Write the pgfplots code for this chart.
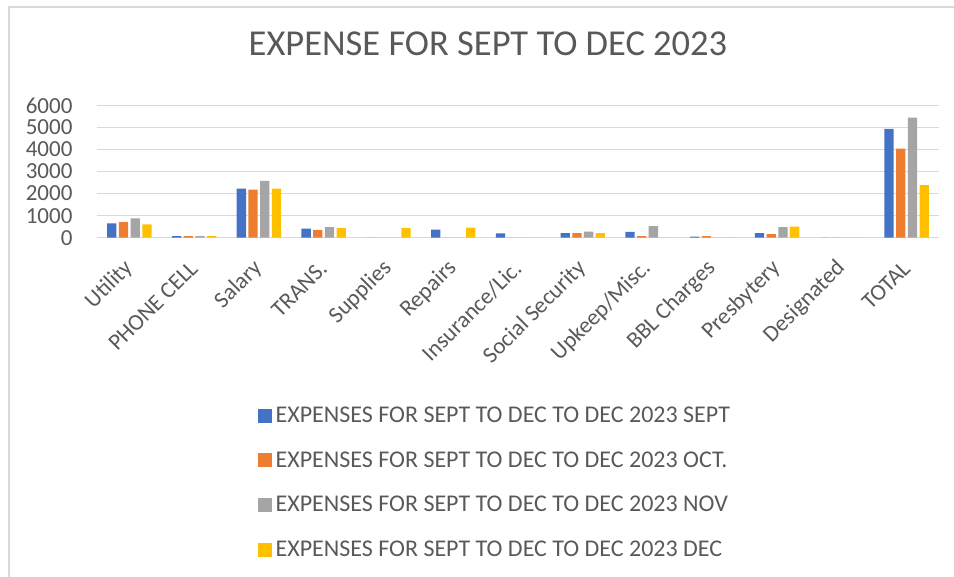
\documentclass[border=0pt]{standalone}
\usepackage{pgfplots}
\pgfplotsset{compat=1.18}
\usepackage{fontspec}
\setmainfont{Carlito}
\definecolor{SeptBlue}{HTML}{4472C4}
\definecolor{OctOrange}{HTML}{ED7D31}
\definecolor{NovGray}{HTML}{A5A5A5}
\definecolor{DecGold}{HTML}{FFC000}
\definecolor{TextGray}{HTML}{595959}
\definecolor{GridGray}{HTML}{D9D9D9}

\begin{document}
\begin{tikzpicture}
  \useasboundingbox (0,0) rectangle (954pt,577pt);
  % chart frame (only top and left edges show in the reference)
  \draw[GridGray, line width=1.5pt] (9pt,0) -- (9pt,570pt) -- (954pt,570pt);
  % title
  \node[anchor=base, text=TextGray, font=\fontsize{36.5}{42}\selectfont]
    at (488pt,521pt) {EXPENSE FOR SEPT TO DEC 2023};

  \begin{axis}[
      at={(97pt,339.3pt)}, anchor=south west,
      scale only axis, width=842pt, height=132.3pt,
      ybar=2.4pt, bar width=9.3pt,
      xmin=-0.5, xmax=12.5, ymin=0, ymax=6000,
      xtick={0,...,12},
      xticklabels={Utility, PHONE CELL, Salary, TRANS., Supplies, Repairs,
        Insurance/Lic., Social Security, Upkeep/Misc., BBL Charges,
        Presbytery, Designated, TOTAL},
      ytick={0,1000,...,6000},
      scaled y ticks=false,
      /pgf/number format/assume math mode=true,
      yticklabel={\pgfmathprintnumber[fixed,1000 sep={}]{\tick}},
      major tick length=0pt,
      axis line style={draw=none},
      ymajorgrids, grid style={GridGray, line width=1.3pt},
      tick label style={text=TextGray, font=\fontsize{23}{27}\selectfont},
      yticklabel style={xshift=-21pt},
      xticklabel style={rotate=45, anchor=east, xshift=-16pt, yshift=-19pt},
      legend style={at={(0.187,-1.25)}, anchor=north west, draw=none, fill=none,
        font=\fontsize{24}{28}\selectfont, text=TextGray,
        row sep=23.5pt, cells={anchor=west}},
      legend image code/.code={\fill[#1] (0pt,-7pt) rectangle (14pt,7pt);},
    ]
    % SEPT
    \addplot[fill=SeptBlue, draw=none] coordinates {
      (0,650) (1,75) (2,2230) (3,410) (4,0) (5,365) (6,200) (7,210)
      (8,260) (9,45) (10,210) (11,0) (12,4940)};
    % OCT.
    \addplot[fill=OctOrange, draw=none] coordinates {
      (0,710) (1,75) (2,2180) (3,350) (4,0) (5,0) (6,0) (7,210)
      (8,75) (9,75) (10,165) (11,0) (12,4045)};
    % NOV
    \addplot[fill=NovGray, draw=none] coordinates {
      (0,880) (1,70) (2,2580) (3,485) (4,0) (5,0) (6,0) (7,275)
      (8,530) (9,0) (10,485) (11,0) (12,5440)};
    % DEC
    \addplot[fill=DecGold, draw=none] coordinates {
      (0,605) (1,70) (2,2230) (3,440) (4,440) (5,455) (6,0) (7,210)
      (8,0) (9,12) (10,500) (11,0) (12,2380)};
    \legend{\hspace{2pt}EXPENSES FOR SEPT TO DEC TO DEC 2023 SEPT,
      \hspace{2pt}EXPENSES FOR SEPT TO DEC TO DEC 2023 OCT.,
      \hspace{2pt}EXPENSES FOR SEPT TO DEC TO DEC 2023 NOV,
      \hspace{2pt}EXPENSES FOR SEPT TO DEC TO DEC 2023 DEC}
  \end{axis}
\end{tikzpicture}
\end{document}
